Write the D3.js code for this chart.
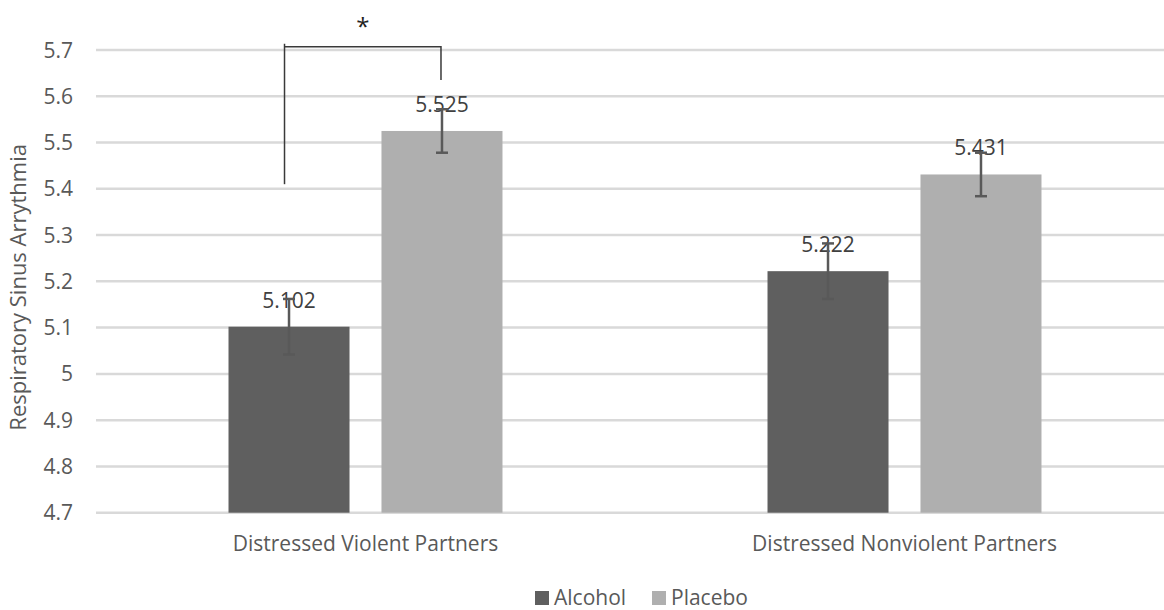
<!DOCTYPE html>
<html>
<head>
<meta charset="utf-8">
<script src="https://cdn.jsdelivr.net/npm/d3@7"></script>
<style>
  html, body { margin: 0; padding: 0; background: #fff; }
  svg { display: block; font-family: "Open Sans", "Noto Sans", sans-serif; }
</style>
</head>
<body>
<svg id="chart" width="1164" height="610"></svg>
<script>
// Group categories and the two conditions
const categories = ["Distressed Violent Partners", "Distressed Nonviolent Partners"];
const seriesNames = ["Alcohol", "Placebo"];
const seriesColors = ["#5f5f5f", "#afafaf"];

// Mean RSA per condition, one entry per category
const alcoholValues = [5.102, 5.222];
const placeboValues = [5.525, 5.431];

// Error bar half-widths
const alcoholErrors = [0.06, 0.06];
const placeboErrors = [0.047, 0.047];

// Y axis ticks
const yTicks = [4.7, 4.8, 4.9, 5.0, 5.1, 5.2, 5.3, 5.4, 5.5, 5.6, 5.7];
const yTickLabels = ["4.7", "4.8", "4.9", "5", "5.1", "5.2", "5.3", "5.4", "5.5", "5.6", "5.7"];

// Significance bracket (first category): levels on the value axis
const bracketTop = 5.707;
const bracketLeftBottom = 5.41;
const bracketRightBottom = 5.635;
const starLevel = 5.76;

const yTitle = "Respiratory Sinus Arrythmia";

const svg = d3.select("#chart");

const y = d3.scaleLinear().domain([4.7, 5.7]).range([512.7, 50]);

const x0 = d3.scaleBand()
  .domain(categories)
  .range([96, 1174])
  .paddingInner(0.4917)
  .paddingOuter(0.24585);

const x1 = d3.scaleBand()
  .domain(seriesNames)
  .range([0, x0.bandwidth()])
  .paddingInner(0.209)
  .paddingOuter(0);

const rows = categories.map((c, i) => ({
  category: c,
  bars: [
    { series: "Alcohol", value: alcoholValues[i], err: alcoholErrors[i], color: seriesColors[0] },
    { series: "Placebo", value: placeboValues[i], err: placeboErrors[i], color: seriesColors[1] }
  ]
}));

// Gridlines
svg.append("g")
  .selectAll("line")
  .data(yTicks)
  .join("line")
  .attr("x1", 96)
  .attr("x2", 1174)
  .attr("y1", d => y(d))
  .attr("y2", d => y(d))
  .attr("stroke", "#d9d9d9")
  .attr("stroke-width", 2.5);

// Y tick labels
svg.append("g")
  .selectAll("text")
  .data(yTicks)
  .join("text")
  .attr("x", 73)
  .attr("y", d => y(d))
  .attr("dy", "0.36em")
  .attr("text-anchor", "end")
  .attr("font-size", 21)
  .attr("fill", "#595959")
  .text((d, i) => yTickLabels[i]);

// Y axis title
svg.append("text")
  .attr("transform", `translate(26, ${(y(4.7) + y(5.7)) / 2 + 6}) rotate(-90)`)
  .attr("text-anchor", "middle")
  .attr("font-size", 22)
  .attr("fill", "#595959")
  .text(yTitle);

// Bars
const groups = svg.append("g")
  .selectAll("g")
  .data(rows)
  .join("g")
  .attr("transform", d => `translate(${x0(d.category)},0)`);

groups.selectAll("rect")
  .data(d => d.bars)
  .join("rect")
  .attr("x", d => x1(d.series))
  .attr("width", x1.bandwidth())
  .attr("y", d => y(d.value))
  .attr("height", d => y(4.7) - y(d.value))
  .attr("fill", d => d.color);

// Value labels
groups.selectAll("text.val")
  .data(d => d.bars)
  .join("text")
  .attr("class", "val")
  .attr("x", d => x1(d.series) + x1.bandwidth() / 2)
  .attr("y", d => y(d.value) - 19)
  .attr("text-anchor", "middle")
  .attr("font-size", 21)
  .attr("fill", "#404040")
  .text(d => d3.format(".3f")(d.value));

// Error bars
const eb = groups.selectAll("g.err")
  .data(d => d.bars)
  .join("g")
  .attr("class", "err")
  .attr("stroke", "#595959")
  .attr("stroke-width", 2.5);

eb.append("line")
  .attr("x1", d => x1(d.series) + x1.bandwidth() / 2)
  .attr("x2", d => x1(d.series) + x1.bandwidth() / 2)
  .attr("y1", d => y(d.value + d.err))
  .attr("y2", d => y(d.value - d.err));

eb.selectAll("line.cap")
  .data(d => [d.value + d.err, d.value - d.err].map(v => ({ v, cx: x1(d.series) + x1.bandwidth() / 2 })))
  .join("line")
  .attr("class", "cap")
  .attr("x1", d => d.cx - 6)
  .attr("x2", d => d.cx + 6)
  .attr("y1", d => y(d.v))
  .attr("y2", d => y(d.v));

// Significance bracket between Alcohol and Placebo of the first group
const gx = x0(categories[0]);
const leftX = gx + x1("Alcohol") + x1.bandwidth() / 2 - 4.5;
const rightX = gx + x1("Placebo") + x1.bandwidth() / 2 - 1;
const bracket = svg.append("g")
  .attr("fill", "none")
  .attr("stroke", "#3a3a3a")
  .attr("stroke-width", 1.5);
bracket.append("path")
  .attr("d", d3.line()([
    [leftX, y(bracketLeftBottom)],
    [leftX, y(bracketTop) - 3],
  ]));
bracket.append("path")
  .attr("d", d3.line()([
    [leftX, y(bracketTop)],
    [rightX, y(bracketTop)],
    [rightX, y(bracketRightBottom)]
  ]));

svg.append("text")
  .attr("x", (leftX + rightX) / 2)
  .attr("y", y(starLevel))
  .attr("dy", "0.55em")
  .attr("text-anchor", "middle")
  .attr("font-size", 24)
  .attr("fill", "#222")
  .text("*");

// Category labels
svg.append("g")
  .selectAll("text")
  .data(categories)
  .join("text")
  .attr("x", d => x0(d) + x0.bandwidth() / 2)
  .attr("y", 551)
  .attr("text-anchor", "middle")
  .attr("font-size", 21)
  .attr("fill", "#595959")
  .text(d => d);

// Legend
const legendX = [535, 652];
const legend = svg.append("g")
  .selectAll("g")
  .data(seriesNames)
  .join("g")
  .attr("transform", (d, i) => `translate(${legendX[i]}, 591)`);
legend.append("rect")
  .attr("width", 14)
  .attr("height", 14)
  .attr("fill", (d, i) => seriesColors[i]);
legend.append("text")
  .attr("x", 19)
  .attr("y", 14)
  .attr("font-size", 21)
  .attr("fill", "#595959")
  .text(d => d);
</script>
</body>
</html>
